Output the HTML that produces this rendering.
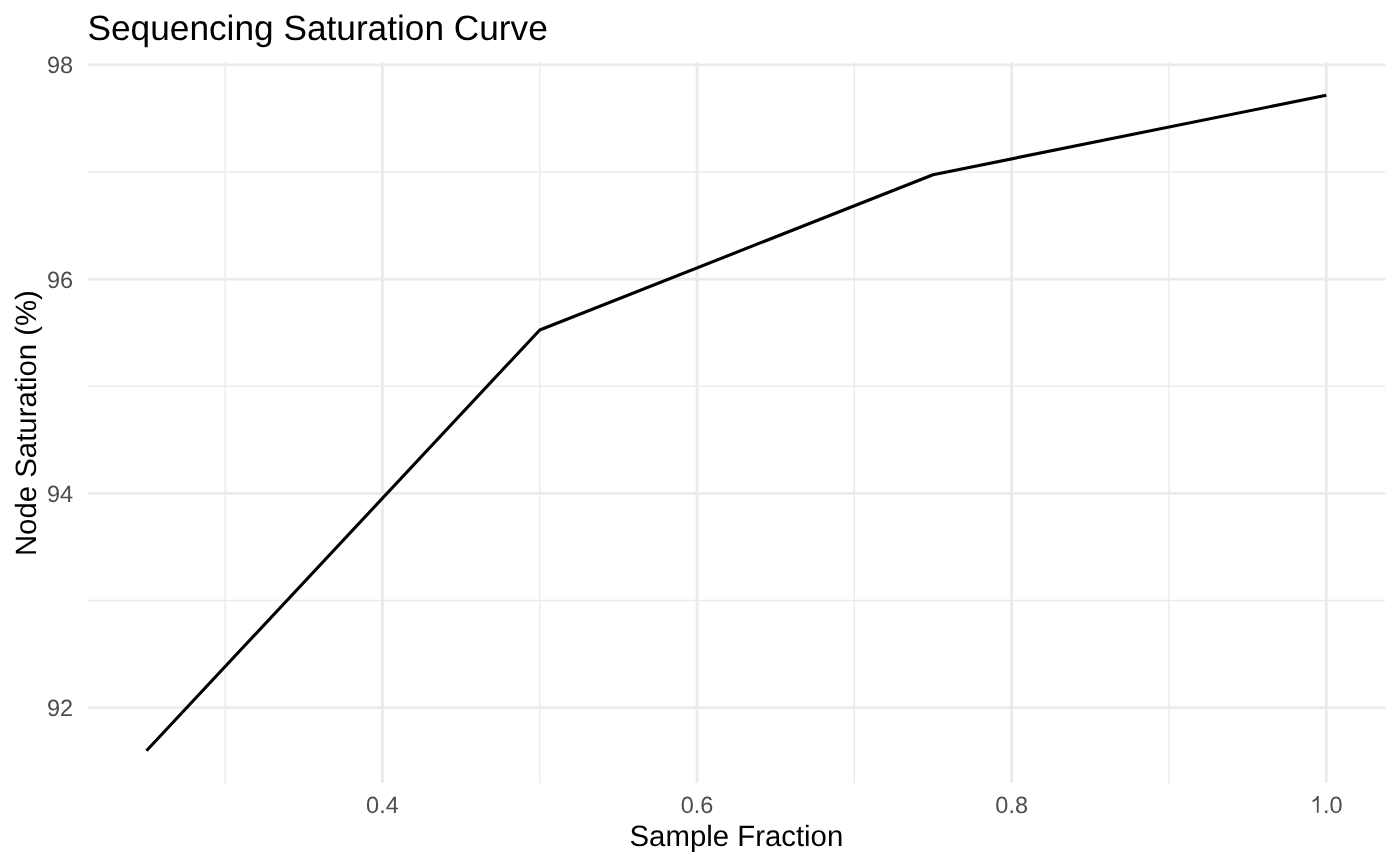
<!DOCTYPE html>
<html><head><meta charset="utf-8"><style>
html,body{margin:0;padding:0;background:#fff;}
body{width:1400px;height:866px;overflow:hidden;}
svg{display:block;font-family:"Liberation Sans",sans-serif;will-change:transform;text-rendering:geometricPrecision;}
</style></head><body>
<svg width="1400" height="866" viewBox="0 0 1400 866">
<rect width="1400" height="866" fill="#fff"/>
<line x1="87.5" x2="1385.3" y1="172.01" y2="172.01" stroke="#EBEBEB" stroke-width="1.42"/>
<line x1="87.5" x2="1385.3" y1="386.23" y2="386.23" stroke="#EBEBEB" stroke-width="1.42"/>
<line x1="87.5" x2="1385.3" y1="600.45" y2="600.45" stroke="#EBEBEB" stroke-width="1.42"/>
<line y1="62.0" y2="783.0" x1="225.15" x2="225.15" stroke="#EBEBEB" stroke-width="1.42"/>
<line y1="62.0" y2="783.0" x1="539.76" x2="539.76" stroke="#EBEBEB" stroke-width="1.42"/>
<line y1="62.0" y2="783.0" x1="854.38" x2="854.38" stroke="#EBEBEB" stroke-width="1.42"/>
<line y1="62.0" y2="783.0" x1="1169.00" x2="1169.00" stroke="#EBEBEB" stroke-width="1.42"/>
<line x1="87.5" x2="1385.3" y1="64.90" y2="64.90" stroke="#EBEBEB" stroke-width="2.84"/>
<line x1="87.5" x2="1385.3" y1="279.12" y2="279.12" stroke="#EBEBEB" stroke-width="2.84"/>
<line x1="87.5" x2="1385.3" y1="493.34" y2="493.34" stroke="#EBEBEB" stroke-width="2.84"/>
<line x1="87.5" x2="1385.3" y1="707.56" y2="707.56" stroke="#EBEBEB" stroke-width="2.84"/>
<line y1="62.0" y2="783.0" x1="382.45" x2="382.45" stroke="#EBEBEB" stroke-width="2.84"/>
<line y1="62.0" y2="783.0" x1="697.07" x2="697.07" stroke="#EBEBEB" stroke-width="2.84"/>
<line y1="62.0" y2="783.0" x1="1011.69" x2="1011.69" stroke="#EBEBEB" stroke-width="2.84"/>
<line y1="62.0" y2="783.0" x1="1326.31" x2="1326.31" stroke="#EBEBEB" stroke-width="2.84"/>
<path d="M146.49,750.70 L539.76,330.00 L933.04,174.70 L1326.31,95.30" fill="none" stroke="#000" stroke-width="3.1" stroke-linejoin="round" stroke-linecap="butt"/>
<text x="73.0" y="73" text-anchor="end" font-size="23.49" fill="#4D4D4D">98</text>
<text x="73.0" y="288" text-anchor="end" font-size="23.49" fill="#4D4D4D">96</text>
<text x="73.0" y="502" text-anchor="end" font-size="23.49" fill="#4D4D4D">94</text>
<text x="73.0" y="716" text-anchor="end" font-size="23.49" fill="#4D4D4D">92</text>
<path d="M1318.64,812.70 L1316.87,812.70 L1316.87,799.74 Q1314.80,801.34 1312.54,802.25 L1312.54,800.26 Q1315.72,798.71 1317.32,795.89 L1318.73,795.89 Z" fill="#4D4D4D"/>
<text x="1323.05" y="812.7" font-size="23.49" fill="#4D4D4D">.0</text>
<text x="382.45" y="812.7" text-anchor="middle" font-size="23.49" fill="#4D4D4D">0.4</text>
<text x="697.07" y="812.7" text-anchor="middle" font-size="23.49" fill="#4D4D4D">0.6</text>
<text x="1011.69" y="812.7" text-anchor="middle" font-size="23.49" fill="#4D4D4D">0.8</text>
<text x="736.40" y="846" text-anchor="middle" font-size="29.37" fill="#000">Sample Fraction</text>
<text transform="translate(35.9,423.10) rotate(-90)" x="0" y="0" text-anchor="middle" font-size="29.37" fill="#000">Node Saturation (%)</text>
<text x="87.5" y="39.7" font-size="35.24" fill="#000">Sequencing Saturation Curve</text>
</svg>
</body></html>
